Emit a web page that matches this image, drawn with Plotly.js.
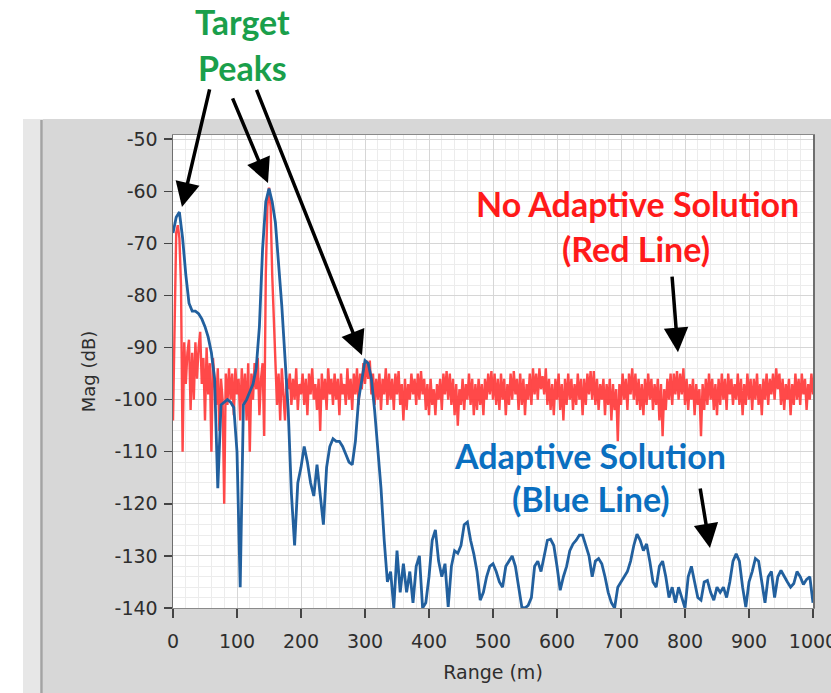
<!DOCTYPE html>
<html>
<head>
<meta charset="utf-8">
<script src="https://cdn.plot.ly/plotly-3.0.1.min.js"></script>
<style>html,body{margin:0;padding:0;background:#fff;}#chart{width:831px;height:693px;}</style>
</head>
<body>
<div id="chart"></div>
<script>
// ---------------- DATA ----------------
// Red line (No Adaptive Solution): range 0..1000 m, sampled every 2.5 m
const redStartM = 0;
const redStepM = 2.5;
const redMag = [
  // 0 - 20 m
  -104, -82, -68, -66.5, -69, -78, -110, -89, -97,
  // 22.5 - 137.5 m
  -91, -88.5, -102, -91, -100, -89, -96, -90, -87, -97,
  -92, -104, -90, -99, -93, -110, -92, -97, -101, -94,
  -106, -96, -100, -120, -95, -101, -94, -100, -95, -103,
  -94, -99, -96, -104, -94, -101, -95, -104, -93, -110,
  -95, -100, -93, -98, -92, -103, -96,
  // 140 - 177.5 m
  -93, -107, -76, -63, -59.3, -63, -76, -85, -92, -101,
  -95, -104, -94, -99, -104, -96,
  // 180 - 1000 m
  -98, -95, -101, -96, -100, -94, -102, -97, -99, -95,
  -101, -96, -103, -95, -99, -94, -100, -97, -102, -96,
  -106, -95, -100, -96, -102, -94, -99, -96, -101, -95,
  -100, -96, -103, -95, -99, -97, -101, -94, -100, -96,
  -102, -95, -99, -94, -101, -95, -98, -93, -97, -92.5,
  -96, -92.5, -99, -95, -101, -96, -100, -95, -102, -96,
  -99, -94, -101, -95, -100, -96, -102, -95, -99, -94.5,
  -101, -97, -104, -96, -102, -97, -100, -95, -99, -96,
  -101, -95, -100, -94.5, -99, -96, -102, -97, -103, -96,
  -101, -98, -103, -97, -100, -96, -102, -95, -99, -94.5,
  -100, -95, -101, -96, -103, -97, -105, -98, -101, -96,
  -102, -97, -100, -95, -101, -96, -103, -97, -102, -96,
  -101, -97, -103, -96, -100, -95, -99, -94.5, -100, -95,
  -101, -96, -102, -95, -100, -96, -103, -97, -101, -95,
  -100, -94.5, -99, -96, -102, -95, -101, -96, -103, -97,
  -100, -95, -101, -94, -99, -95, -100, -94, -98, -95.5,
  -99, -94, -101, -96, -102, -97, -103, -96, -100, -95,
  -102, -97, -104, -96, -101, -95, -100, -96, -102, -97,
  -101, -95, -100, -96, -103, -96, -101, -95, -99, -94.5,
  -100, -94.5, -101, -96, -102, -97, -100, -96, -103, -97,
  -101, -96, -104, -97, -102, -98, -108, -97, -101, -95,
  -100, -96, -102, -95, -99, -94, -100, -95, -101, -96,
  -102, -97, -103, -96, -101, -95, -100, -96, -102, -97,
  -101, -96, -104, -97, -107, -98, -102, -96, -100, -95,
  -101, -95, -99, -94.5, -100, -95, -99, -94, -101, -96,
  -102, -97, -100, -96, -103, -97, -101, -98, -107, -97,
  -102, -96, -101, -95, -100, -96, -102, -97, -103, -96,
  -101, -95, -100, -96, -102, -95, -99, -96, -101, -97,
  -100, -95, -101, -96, -103, -97, -101, -95, -100, -96,
  -102, -96, -100, -95, -101, -97, -103, -96, -100, -95,
  -101, -96, -99, -95, -100, -94, -98, -95, -101, -96,
  -102, -97, -100, -96, -103, -97, -101, -95, -100, -96,
  -101, -95, -99, -96, -102, -97, -100, -95, -99
];

// Blue line (Adaptive Solution): range 0..1000 m, sampled every 5 m
const blueStartM = 0;
const blueStepM = 5;
const blueMag = [
  -68, -65, -64, -69, -76, -81.5, -83, -83, -83.5, -84.5,          // 0-45
  -86, -88, -91, -96, -117, -101, -100.5, -100, -100.5, -101.5,    // 50-95
  -110, -136, -101, -100, -98.5, -97, -94, -86, -71, -62,          // 100-145
  -59.5, -62, -66, -74, -82, -92, -102, -118, -128, -116,          // 150-195
  -113, -109, -112, -116, -118.5, -112.5, -118, -124, -113, -109,  // 200-245
  -107.5, -108, -108, -109, -110.5, -112, -112.5, -108, -100, -96, // 250-295
  -92.5, -93, -96, -102, -110, -117, -127, -135, -133, -140,       // 300-345
  -129, -137, -131.5, -137, -133, -139, -132, -130, -140, -139,    // 350-395
  -134, -127, -125, -131, -134, -131.5, -139.8, -132, -129, -129.5,// 400-445
  -128, -124, -123.5, -127, -129.6, -133, -138.5, -137, -134, -132,// 450-495
  -131.5, -133, -135, -136, -132, -131, -130, -132, -136, -139.8,  // 500-545
  -140, -139.5, -138, -132, -131, -133, -130, -127, -126.8, -128,  // 550-595
  -132, -136.6, -134, -132, -129, -127.7, -127, -126, -126, -128,  // 600-645
  -130, -134, -131, -130.5, -131.5, -134, -137, -139, -140, -136,  // 650-695
  -135, -134, -133, -131, -128, -125.8, -127, -129, -127.7, -131,  // 700-745
  -135, -136, -132, -131, -134, -138, -136, -139, -136, -138,      // 750-795
  -140, -134, -132, -135, -138, -138.5, -135, -134.7, -137, -138.5,// 800-845
  -136, -137, -136, -138, -135, -131, -129.6, -131, -136, -139.8,  // 850-895
  -135, -133, -130.5, -131, -135, -139, -134, -133, -138, -134,    // 900-945
  -132.8, -134, -135, -136, -135.3, -133, -134, -135.5, -134.5, -134, // 950-995
  -139                                                              // 1000
];

const xTickVals = [0, 100, 200, 300, 400, 500, 600, 700, 800, 900, 1000];
const xTickText = ['0', '100', '200', '300', '400', '500', '600', '700', '800', '900', '1000'];
const yTickVals = [-50, -60, -70, -80, -90, -100, -110, -120, -130, -140];
const yTickText = ['-50', '-60', '-70', '-80', '-90', '-100', '-110', '-120', '-130', '-140'];

// ---------------- LAYOUT HELPERS ----------------
const W = 831, H = 693;
const M = {l: 173, r: 18, t: 135, b: 85};
const plotW = W - M.l - M.r, plotH = H - M.t - M.b;
const px = v => (v - M.l) / plotW;          // pixel x -> paper x
const py = v => (H - M.b - v) / plotH;      // pixel y -> paper y

const tickFont = {family: 'DejaVu Sans, Arial, sans-serif', size: 19, color: '#2e2e2e'};
const calloutFont = 'Lato, "Open Sans", Arial, sans-serif';

const traces = [
  {
    type: 'scatter', mode: 'lines', name: 'No Adaptive Solution',
    x0: redStartM, dx: redStepM, y: redMag,
    line: {color: 'rgba(255,58,58,0.92)', width: 2.4},
    hoverinfo: 'skip'
  },
  {
    type: 'scatter', mode: 'lines', name: 'Adaptive Solution',
    x0: blueStartM, dx: blueStepM, y: blueMag,
    line: {color: '#22609e', width: 2.8},
    hoverinfo: 'skip'
  }
];

function arrow(x, y, ax, ay) {
  return {x: x, y: y, xref: 'x', yref: 'y', ax: ax, ay: ay, text: '',
    showarrow: true, arrowhead: 2, arrowsize: 1.4, arrowwidth: 3.5, arrowcolor: '#000000',
    standoff: 0, startstandoff: 0};
}
function label(text, cx, cy, color) {
  return {text: '<b>' + text + '</b>', x: px(cx), y: py(cy), xref: 'paper', yref: 'paper',
    showarrow: false, xanchor: 'center', yanchor: 'middle',
    font: {family: calloutFont, size: 34, color: color}};
}

const layout = {
  width: W, height: H,
  margin: M,
  paper_bgcolor: '#ffffff',
  plot_bgcolor: '#ffffff',
  showlegend: false,
  xaxis: {
    range: [0, 1000], tickmode: 'array', tickvals: xTickVals, ticktext: xTickText,
    ticks: 'outside', ticklen: 9, tickwidth: 1.5, tickcolor: '#444444',
    tickfont: tickFont, ticklabelstandoff: 7, ticklabeloverflow: 'allow',
    showgrid: true, gridcolor: '#d6d6d6', gridwidth: 1,
    minor: {dtick: 20, showgrid: true, gridcolor: '#ececec', gridwidth: 1},
    showline: true, linecolor: '#8a8a8a', linewidth: 1, mirror: true,
    zeroline: false, fixedrange: true,
    title: {text: 'Range (m)', font: {family: 'DejaVu Sans, Arial, sans-serif', size: 19, color: '#2e2e2e'}, standoff: 14}
  },
  yaxis: {
    range: [-140, -49.2], tickmode: 'array', tickvals: yTickVals, ticktext: yTickText,
    ticks: 'outside', ticklen: 8, tickwidth: 1.5, tickcolor: '#444444',
    tickfont: tickFont, ticklabelstandoff: 2,
    showgrid: true, gridcolor: '#d6d6d6', gridwidth: 1,
    minor: {dtick: 2, showgrid: true, gridcolor: '#ececec', gridwidth: 1},
    showline: true, linecolor: '#6e6e6e', linewidth: 1.5, mirror: true,
    zeroline: false, fixedrange: true,
    title: {text: 'Mag (dB)', font: {family: 'DejaVu Sans, Arial, sans-serif', size: 18, color: '#2e2e2e'}, standoff: 14}
  },
  shapes: [
    {type: 'rect', xref: 'paper', yref: 'paper', layer: 'below',
     x0: px(23), x1: px(W), y0: py(119), y1: py(H), fillcolor: '#e7e7e7', line: {width: 0}},
    {type: 'rect', xref: 'paper', yref: 'paper', layer: 'below',
     x0: px(43), x1: px(W), y0: py(119), y1: py(H), fillcolor: '#d7d7d7', line: {width: 0}},
    {type: 'line', xref: 'paper', yref: 'paper', layer: 'below',
     x0: px(41.5), x1: px(41.5), y0: py(120), y1: py(H), line: {color: '#a3a3a3', width: 2.5}},
    {type: 'rect', xref: 'paper', yref: 'paper', layer: 'below',
     x0: 0, x1: 1, y0: 0, y1: 1, fillcolor: '#ffffff', line: {width: 0}}
  ],
  annotations: [
    label('Target', 242, 22, '#1a9f4b'),
    label('Peaks', 242, 68, '#1a9f4b'),
    label('No Adaptive Solution', 637, 203, '#ff1a1a'),
    label('(Red Line)', 636, 248, '#ff1a1a'),
    label('Adaptive Solution', 590, 455, '#0a6fc0'),
    label('(Blue Line)', 591, 498, '#0a6fc0'),
    arrow(14, -63, 28, -119),
    arrow(148.4, -58.4, -36, -86),
    arrow(295.3, -91.5, -106, -267),
    arrow(789, -90.9, -6, -77),
    arrow(839, -128.5, -10, -61)
  ]
};

Plotly.newPlot('chart', traces, layout, {staticPlot: true, displayModeBar: false});
</script>
</body>
</html>
